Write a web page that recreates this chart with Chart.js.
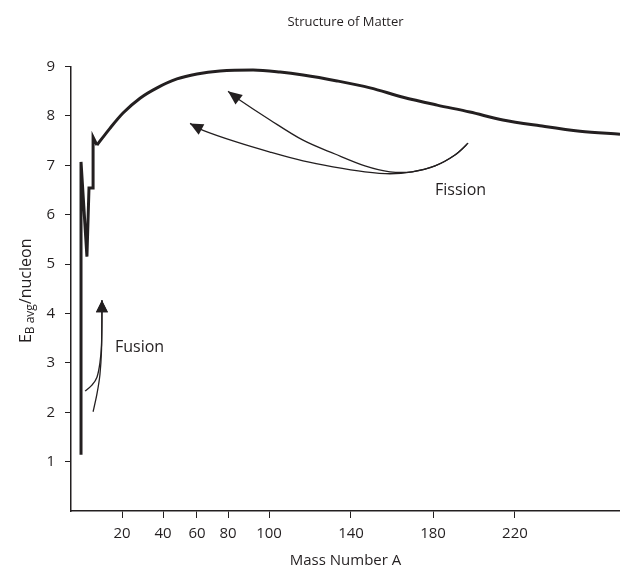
<!DOCTYPE html>
<html>
<head>
<meta charset="utf-8">
<script src="https://cdn.jsdelivr.net/npm/chart.js@4/dist/chart.umd.min.js"></script>
<style>
  html, body { margin: 0; padding: 0; background: #fff; }
</style>
</head>
<body>
<canvas id="myChart" width="620" height="573"></canvas>
<script>
// data
// light nuclei: jagged part of the curve
const lightMass = [2, 2, 4.6, 5.5, 7.3, 7.3, 9.0];
const lightEnergy = [1.14, 7.07, 5.15, 6.54, 6.54, 7.57, 7.41];
// heavier nuclei: smooth part
const heavyMass = [9.0, 14.7, 20.5, 28.8, 37.1, 48.2, 60, 74.8, 92.2, 105.4, 116.6, 133.2, 149.3, 165.4, 182.0, 198.0, 214.1, 232.2, 251.7, 271.2];
const heavyEnergy = [7.41, 7.75, 8.06, 8.36, 8.57, 8.75, 8.85, 8.91, 8.93, 8.89, 8.83, 8.71, 8.57, 8.38, 8.22, 8.08, 7.92, 7.80, 7.69, 7.63];

const xTicks = [20, 40, 60, 80, 100, 140, 180, 220];
const yTicks = [1, 2, 3, 4, 5, 6, 7, 8, 9];

const INK = '#231f20';
const FONT = "'Open Sans', 'Noto Sans', sans-serif";

// the printed axis is not evenly spaced: [mass number, fraction of axis length]
const X_KNOTS = [[-2.4, 0], [20, 0.0929], [40, 0.1676], [60, 0.2295], [80, 0.2860],
                 [100, 0.3607], [140, 0.5100], [180, 0.6594], [220, 0.8087], [271.2, 1]];

function knotInterp(knots, v, from, to) {
    let i = 0;
    while (i < knots.length - 2 && v > knots[i + 1][from]) i++;
    const a = knots[i], b = knots[i + 1];
    return a[to] + (v - a[from]) * (b[to] - a[to]) / (b[from] - a[from]);
}

class KnotScale extends Chart.LinearScale {
    getPixelForValue(value) {
        return this.getPixelForDecimal(knotInterp(X_KNOTS, value, 0, 1));
    }
    getValueForPixel(pixel) {
        return knotInterp(X_KNOTS, this.getDecimalForPixel(pixel), 1, 0);
    }
}
KnotScale.id = 'knots';
KnotScale.defaults = Chart.LinearScale.defaults;
Chart.register(KnotScale);

// arrows (in axis units: mass number, energy)
const fissionUpper = [[197.1, 7.45], [190.7, 7.21], [181.0, 6.99], [169.8, 6.87], [159.0, 6.87], [146.8, 6.99], [132.2, 7.23], [116.6, 7.51], [100.5, 7.92], [84.4, 8.36], [80, 8.50]];
const fissionLower = [[197.1, 7.45], [190.7, 7.21], [181.0, 6.99], [169.8, 6.87], [159.0, 6.83], [146.8, 6.87], [131.2, 6.97], [116.6, 7.09], [100.5, 7.27], [84.4, 7.47], [63.9, 7.71], [55.9, 7.85]];
const fusionLeft = [[3.8, 2.43], [6.8, 2.55], [9.0, 2.71], [10.3, 3.0], [11.0, 3.36], [11.2, 4.05], [11.2, 4.27]];
const fusionRight = [[7.3, 2.01], [9.0, 2.37], [10.3, 2.76], [11.0, 3.26], [11.2, 4.05], [11.2, 4.27]];
const labels = [
    { text: 'Fusion', at: [16.9, 3.32] },
    { text: 'Fission', at: [181.0, 6.5] },
];

function toPoints(xs, ys) {
    return xs.map((x, i) => ({ x: x, y: ys[i] }));
}

// smooth curve through points, arrow head at the end
function drawArrow(ctx, xs, ys, pts, head) {
    const p = pts.map(q => [xs.getPixelForValue(q[0]), ys.getPixelForValue(q[1])]);
    ctx.beginPath();
    ctx.moveTo(p[0][0], p[0][1]);
    for (let i = 0; i < p.length - 1; i++) {
        const p0 = p[i - 1] || p[i], p1 = p[i], p2 = p[i + 1], p3 = p[i + 2] || p2;
        ctx.bezierCurveTo(
            p1[0] + (p2[0] - p0[0]) / 6, p1[1] + (p2[1] - p0[1]) / 6,
            p2[0] - (p3[0] - p1[0]) / 6, p2[1] - (p3[1] - p1[1]) / 6,
            p2[0], p2[1]);
    }
    ctx.stroke();
    const tip = p[p.length - 1], prev = p[p.length - 2];
    let dx = tip[0] - prev[0], dy = tip[1] - prev[1];
    const len = Math.hypot(dx, dy);
    dx /= len; dy /= len;
    const bx = tip[0] - dx * head.len, by = tip[1] - dy * head.len;
    ctx.beginPath();
    ctx.moveTo(tip[0], tip[1]);
    ctx.lineTo(bx - dy * head.half, by + dx * head.half);
    ctx.lineTo(bx + dy * head.half, by - dx * head.half);
    ctx.closePath();
    ctx.fill();
}

const annotations = {
    id: 'annotations',
    afterDatasetsDraw(chart) {
        const ctx = chart.ctx, xs = chart.scales.x, ys = chart.scales.y;
        ctx.save();
        ctx.strokeStyle = INK;
        ctx.fillStyle = INK;
        ctx.lineWidth = 1.3;
        drawArrow(ctx, xs, ys, fissionUpper, { len: 14, half: 6 });
        drawArrow(ctx, xs, ys, fissionLower, { len: 13, half: 6 });
        drawArrow(ctx, xs, ys, fusionLeft, { len: 12, half: 6 });
        drawArrow(ctx, xs, ys, fusionRight, { len: 12, half: 6 });
        ctx.font = '16px ' + FONT;
        ctx.textBaseline = 'middle';
        ctx.textAlign = 'left';
        labels.forEach(l => {
            ctx.fillText(l.text, xs.getPixelForValue(l.at[0]), ys.getPixelForValue(l.at[1]));
        });
        ctx.restore();
    },
    // y axis title with subscript
    afterDraw(chart) {
        const ctx = chart.ctx;
        const cy = (chart.chartArea.top + chart.chartArea.bottom) / 2;
        ctx.save();
        ctx.translate(26, cy + 2);
        ctx.rotate(-Math.PI / 2);
        ctx.fillStyle = INK;
        ctx.textBaseline = 'middle';
        ctx.textAlign = 'left';
        const big = '16px ' + FONT, small = '12px ' + FONT;
        ctx.font = big; const w1 = ctx.measureText('E').width;
        ctx.font = small; const w2 = ctx.measureText('B avg').width;
        ctx.font = big; const w3 = ctx.measureText('/nucleon').width;
        let x = -(w1 + w2 + w3) / 2;
        ctx.font = big; ctx.fillText('E', x, 0); x += w1;
        ctx.font = small; ctx.fillText('B avg', x, 5); x += w2;
        ctx.font = big; ctx.fillText('/nucleon', x, 0);
        ctx.restore();
    }
};

const data = {
    datasets: [
        {
            label: 'light',
            data: toPoints(lightMass, lightEnergy),
            borderColor: INK,
            borderWidth: 3,
            borderJoinStyle: 'miter',
            tension: 0,
            pointRadius: 0,
        },
        {
            label: 'heavy',
            data: toPoints(heavyMass, heavyEnergy),
            borderColor: INK,
            borderWidth: 3,
            cubicInterpolationMode: 'monotone',
            pointRadius: 0,
        },
    ],
};

const config = {
    type: 'line',
    data,
    options: {
        responsive: false,
        animation: false,
        layout: { padding: 0 },
        scales: {
            x: {
                type: 'knots',
                min: -2.4,
                max: 271.2,
                afterBuildTicks(scale) { scale.ticks = xTicks.map(v => ({ value: v })); },
                afterFit(scale) { scale.height = 62; },
                border: { display: true, color: INK, width: 1.5 },
                grid: { drawOnChartArea: false, tickLength: 7, color: INK, lineWidth: 1 },
                ticks: { color: INK, font: { family: FONT, size: 15 }, padding: 7, maxRotation: 0 },
                title: { display: true, text: 'Mass Number A', color: INK, font: { family: FONT, size: 15 }, padding: { top: 2, bottom: 3 } },
            },
            y: {
                type: 'linear',
                min: 0,
                max: 9,
                afterBuildTicks(scale) { scale.ticks = yTicks.map(v => ({ value: v })); },
                afterFit(scale) { scale.width = 71; },
                border: { display: true, color: INK, width: 1.5 },
                grid: { drawOnChartArea: false, tickLength: 6, color: INK, lineWidth: 1 },
                ticks: { color: INK, font: { family: FONT, size: 15 }, padding: 10 },
            },
        },
        plugins: {
            legend: { display: false },
            tooltip: { enabled: false },
            title: {
                display: true,
                fullSize: false,
                text: 'Structure of Matter',
                color: INK,
                font: { family: FONT, size: 13, weight: 'normal' },
                padding: { top: 14, bottom: 37 },
            },
        },
    },
    plugins: [annotations],
};

const myChart = new Chart(document.getElementById('myChart'), config);
</script>
</body>
</html>
